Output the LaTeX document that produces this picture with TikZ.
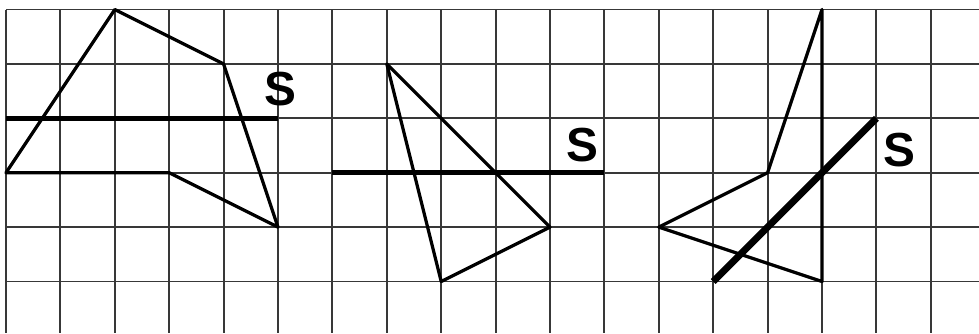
\documentclass[tikz,border=0pt]{standalone}
\usepackage{fontspec}
\setmainfont{Liberation Sans}
\tikzset{
  gridline/.style={draw=black!78, line width=1pt},
  shapeline/.style={draw=black, line width=1.7pt, line join=round},
  axisline/.style={draw=black, line width=2.4pt},
  axisthick/.style={draw=black, line width=3.6pt},
  axislabel/.style={font=\bfseries\fontsize{25}{25}\selectfont, inner sep=0pt}
}
\begin{document}
\begin{tikzpicture}[x=1cm, y=-1cm]
\useasboundingbox (-0.110,-0.175) rectangle (17.886,5.947);
% grid
\foreach \i in {0,...,17} \draw[gridline] (\i,0) -- (\i,5.947);
\foreach \j in {0,...,5} \draw[gridline] (0,\j) -- (17.886,\j);
% figure 1
\coordinate (a1) at (2,0);
\coordinate (a2) at (4,1);
\coordinate (a3) at (5,4);
\coordinate (a4) at (3,3);
\coordinate (a5) at (0,3);
\draw[shapeline] (a1) -- (a2) -- (a3) -- (a4) -- (a5) -- cycle;
\coordinate (s1a) at (0,2);
\coordinate (s1b) at (5,2);
\draw[axisline] (s1a) -- (s1b);
\node[axislabel] (S1) at (5.04,1.46) {S};
% figure 2
\coordinate (b1) at (7,1);
\coordinate (b2) at (8,5);
\coordinate (b3) at (10,4);
\draw[shapeline] (b1) -- (b2) -- (b3) -- cycle;
\coordinate (s2a) at (6,3);
\coordinate (s2b) at (11,3);
\draw[axisline] (s2a) -- (s2b);
\node[axislabel] (S2) at (10.59,2.49) {S};
% figure 3
\coordinate (c1) at (15,0);
\coordinate (c2) at (14,3);
\coordinate (c3) at (12,4);
\coordinate (c4) at (15,5);
\draw[shapeline] (c1) -- (c2) -- (c3) -- (c4) -- cycle;
\coordinate (s3a) at (13,5);
\coordinate (s3b) at (16,2);
\draw[axisthick] (s3a) -- (s3b);
\node[axislabel] (S3) at (16.43,2.58) {S};
\end{tikzpicture}
\end{document}
